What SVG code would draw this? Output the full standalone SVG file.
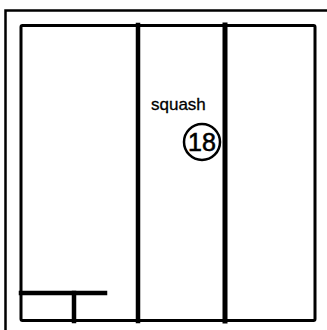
<svg xmlns="http://www.w3.org/2000/svg" width="327" height="330" viewBox="0 0 327 330">
<style>
.w{stroke:#000;fill:none;stroke-linecap:square}
.t{font-family:"Liberation Sans",Arial,sans-serif;fill:#000}
</style>
<rect width="327" height="330" fill="#fff"/>
<g id="frame">
<path class="w" d="M5.5 330V10.5H327" stroke-width="2.5"/>
</g>
<g id="plan">
<rect class="w" x="21" y="25.5" width="294" height="295" rx="1.5" stroke-width="3"/>
<line class="w" x1="138" y1="25" x2="138" y2="321" stroke-width="4.5"/>
<line class="w" x1="225" y1="25" x2="225" y2="321" stroke-width="5"/>
<line class="w" x1="21" y1="293" x2="105" y2="293" stroke-width="4.5"/>
<line class="w" x1="74" y1="293" x2="74" y2="321" stroke-width="4.5"/>
</g>
<g id="squash">
<text class="t" x="151" y="110" font-size="17" stroke="#000" stroke-width="0.3">squash</text>
<circle cx="202" cy="142" r="18" fill="#fff" stroke="#000" stroke-width="2.5"/>
<text class="t" x="202" y="151" font-size="25" text-anchor="middle" stroke="#000" stroke-width="0.6">18</text>
</g>
</svg>
